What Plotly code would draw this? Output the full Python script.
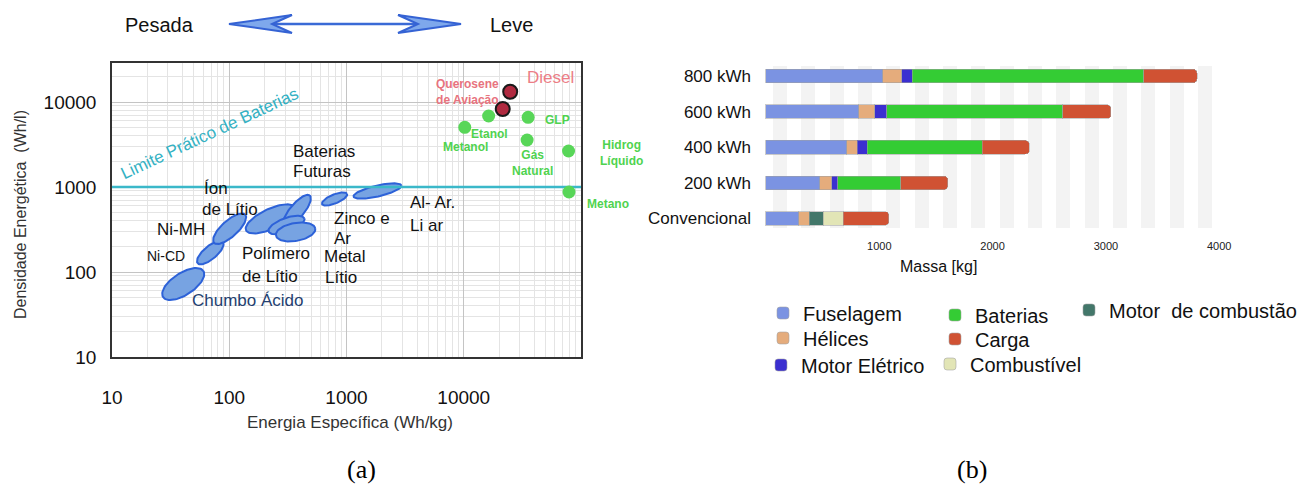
import numpy as np
import plotly.graph_objects as go

W, H = 1299, 486
SANS = "Liberation Sans, Arial, Helvetica, sans-serif"
SERIF = "Liberation Serif, Times New Roman, serif"

# ---------------- (a) energy density chart: data ----------------
x_ticks_a = [10, 100, 1000, 10000]
y_ticks_a = [10, 100, 1000, 10000]
battery_limit = 1000  # Wh/l  ("Limite Prático de Baterias")

bat_names = ["Chumbo Ácido", "Ni-CD", "Ni-MH", "Polímero de Lítio", "Íon de Lítio",
             "Polímero de Lítio (2)", "Metal Lítio", "Zinco e Ar", "Al-Ar / Li-ar"]
bat_energy = [40.5, 68.9, 100.8, 225, 378, 308, 368, 791, 1837]   # Wh/kg (region centre)
bat_density = [72.2, 169, 323, 421, 525, 357, 296, 723, 897]     # Wh/l  (region centre)

fuel_names = ["Metanol", "Etanol", "GLP", "Gás Natural", "Hidrogênio Líquido", "Metano"]
fuel_energy = [10200, 16300, 35400, 34700, 78300, 79000]
fuel_density = [5040, 6840, 6610, 3570, 2650, 873]

liq_names = ["Diesel", "Querosene de Aviação"]
liq_energy = [24900, 21500]
liq_density = [13200, 8280]

# ---------------- (b) mass breakdown: data ----------------
configs = ["800 kWh", "600 kWh", "400 kWh", "200 kWh", "Convencional"]
fuselagem = [1030, 820, 715, 475, 290]
helices = [170, 140, 90, 105, 90]
motor_eletrico = [90, 105, 90, 55, None]
motor_combustao = [None, None, None, None, 125]
combustivel = [None, None, None, None, 175]
baterias = [2045, 1555, 1015, 555, None]
carga = [470, 425, 415, 415, 405]
x_ticks_b = [1000, 2000, 3000, 4000]

# ---------------- styles / geometry ----------------
AX_L, AX_R, AX_T, AX_B = 112, 581, 63, 357       # panel (a) frame in px
DEC_X = (AX_R - AX_L) / 4.0                        # px per decade (x: 10 .. 1e5)
DEC_Y = 85.0                                        # px per decade (y)
Y_TOP = 1 + (AX_B - AX_T) / DEC_Y

ell_a = [24, 16.5, 21, 27, 20, 19, 20, 13.5, 24.5]   # semi-major (px)
ell_b = [11, 6.5, 8, 10, 7, 7, 9, 4.5, 5.5]          # semi-minor (px)
ell_ang = [33, 40, 42, 25, 50, 20, 10, 22, 13]       # degrees


def P(px, py):
    return px / W, 1 - py / H


fig = go.Figure()

# battery regions (ellipses in log space)
t = np.linspace(0, 2 * np.pi, 80)
for cx, cy, a, b, ang, nm in zip(bat_energy, bat_density, ell_a, ell_b, ell_ang, bat_names):
    th = np.radians(ang)
    ux = a * np.cos(t) * np.cos(th) - b * np.sin(t) * np.sin(th)
    uy = a * np.cos(t) * np.sin(th) + b * np.sin(t) * np.cos(th)
    xs = 10 ** (np.log10(cx) + ux / DEC_X)
    ys = 10 ** (np.log10(cy) + uy / DEC_Y)
    fig.add_trace(go.Scatter(x=xs, y=ys, mode="lines", fill="toself", name=nm,
                             fillcolor="#77a3e2", line=dict(color="#2d62d8", width=2),
                             showlegend=False, hoverinfo="skip", xaxis="x", yaxis="y"))

# practical battery limit
fig.add_trace(go.Scatter(x=[10, 1e5], y=[battery_limit, battery_limit], mode="lines",
                         line=dict(color="#3bb8c9", width=2.5), showlegend=False,
                         hoverinfo="skip", xaxis="x", yaxis="y"))

# fuels
fig.add_trace(go.Scatter(x=fuel_energy, y=fuel_density, mode="markers", text=fuel_names,
                         marker=dict(size=13, color="#58d658"), showlegend=False,
                         xaxis="x", yaxis="y"))
fig.add_trace(go.Scatter(x=liq_energy, y=liq_density, mode="markers", text=liq_names,
                         marker=dict(size=14, color="#b02a40", line=dict(color="#1a1a1a", width=2)),
                         showlegend=False, xaxis="x", yaxis="y"))

# ---------------- (b) bars ----------------
# (name, values, colour, legend id, legend text position in px: text-left x, centre y)
series = [
    ("Fuselagem", fuselagem, "#7b93e2", "legend", (803, 313)),
    ("Hélices", helices, "#e5ac7c", "legend2", (803, 338)),
    ("Motor Elétrico", motor_eletrico, "#3b2fd0", "legend3", (801, 365)),
    ("Motor  de combustão", motor_combustao, "#43776a", "legend4", (1109, 310)),
    ("Combustível", combustivel, "#e2e5b6", "legend5", (970, 364)),
    ("Baterias", baterias, "#34cc34", "legend6", (975, 315)),
    ("Carga", carga, "#d05233", "legend7", (975, 339)),
]
legends = {}
leg_common = dict(orientation="v", xanchor="left", yanchor="top", bgcolor="rgba(0,0,0,0)",
                  font=dict(size=20, color="#111", family=SANS), tracegroupgap=0,
                  itemwidth=30, borderwidth=0, traceorder="normal")
for name, vals, col, lg, (tx, ty) in series:
    fig.add_trace(go.Bar(y=configs, x=vals, orientation="h", name=name, width=0.38,
                         marker=dict(color=col, line=dict(color="rgba(160,160,160,0.55)", width=1)),
                         legend=lg, xaxis="x2", yaxis="y2"))
    legends[lg] = dict(x=(tx - 40) / W, y=1 - (ty - 19.5) / H, **leg_common)

# minor grid lines for log axes
minor_x = [m * 10 ** k for k in range(1, 5) for m in range(2, 10)]
minor_y = [m * 10 ** k for k in range(1, 5) for m in range(2, 10)]

ann = []


def add_text(text, px, py, size=17, color="#111", xanchor="left", angle=0, family=SANS):
    x, y = P(px, py)
    ann.append(dict(text=text, x=x, y=y, xref="paper", yref="paper", showarrow=False,
                    xanchor=xanchor, yanchor="middle", textangle=angle,
                    font=dict(size=size, color=color, family=family)))


# panel (a) texts
add_text("Pesada", 159, 25, 20, xanchor="center")
add_text("Leve", 512, 25, 20, xanchor="center")
add_text("Limite Prático de Baterias", 210, 134, 17, "#33b1c3", "center", angle=-25)
add_text("Baterias", 291, 151, 17)
add_text("Futuras", 291, 172, 17)
add_text("Íon", 202, 188, 17)
add_text("de Lítio", 200, 210, 17)
add_text("Ni-MH", 155, 230, 17)
add_text("Ni-CD", 145, 256, 14)
add_text("Polímero", 240, 253, 17)
add_text("de Lítio", 240, 276, 17)
add_text("Zinco e", 332, 218, 17)
add_text("Ar", 332, 238, 17)
add_text("Metal", 322, 256, 17)
add_text("Lítio", 323, 277, 17)
add_text("Al- Ar.", 408, 203, 17)
add_text("Li ar", 408, 225, 17)
add_text("Chumbo Ácido", 190, 300, 17, "#243f70")
GREEN = "#4fd34f"
add_text("<b>Metanol</b>", 465, 147, 12, GREEN, "center")
add_text("<b>Etanol</b>", 490, 134, 12, GREEN, "center")
add_text("<b>GLP</b>", 543, 120, 12, GREEN)
add_text("<b>Gás<br>Natural</b>", 510, 163, 12, GREEN)
add_text("<b>Hidrog<br>Líquido</b>", 598, 153, 12, GREEN)
add_text("<b>Metano</b>", 585, 204, 12, GREEN)
add_text("<b>Querosene<br>de Aviação</b>", 434, 92, 12, "#e8737e")
add_text("Diesel", 550, 77, 17, "#ec7d86", "center")
add_text("Energia Específica (Wh/kg)", 350, 422, 17, "#333", "center")
add_text("Densidade Energética  (Wh/l)", 20, 215, 16, "#333", "center", angle=-90)
add_text("(a)", 361, 469, 26, "#000", "center", family=SERIF)
# panel (b) texts
add_text("Massa [kg]", 938, 266, 16, "#111", "center")
add_text("(b)", 972, 469, 26, "#000", "center", family=SERIF)

# double arrow (decoration) in paper coordinates
def path(points):
    s = ""
    for i, (px, py) in enumerate(points):
        x, y = P(px, py)
        s += ("M" if i == 0 else "L") + f"{x:.5f},{y:.5f} "
    return s + "Z"


shapes = [
    dict(type="line", xref="paper", yref="paper", x0=P(272, 24)[0], y0=P(272, 24)[1],
         x1=P(418, 24)[0], y1=P(418, 24)[1], line=dict(color="#3a6ad6", width=2.5)),
    dict(type="path", xref="paper", yref="paper",
         path=path([(229, 24), (292, 15), (272, 24), (292, 33)]),
         fillcolor="#7ea8ec", line=dict(color="#3563d4", width=2)),
    dict(type="path", xref="paper", yref="paper",
         path=path([(461, 24), (398, 15), (418, 24), (398, 33)]),
         fillcolor="#7ea8ec", line=dict(color="#3563d4", width=2)),
]

fig.update_layout(
    width=W, height=H, autosize=False,
    margin=dict(l=0, r=0, t=0, b=0, autoexpand=False),
    paper_bgcolor="white", plot_bgcolor="white",
    font=dict(family=SANS, color="#111"),
    barmode="stack", barcornerradius=4,
    xaxis=dict(type="log", domain=[AX_L / W, AX_R / W], range=[1, 5], automargin=False,
               tickmode="array", tickvals=x_ticks_a, ticktext=[str(v) for v in x_ticks_a],
               showgrid=True, gridcolor="#c4c4c4", gridwidth=1,
               minor=dict(tickmode="array", tickvals=minor_x, showgrid=True,
                          gridcolor="#e4e4e4", ticks=""),
               showline=True, linecolor="#333", linewidth=1.5, mirror=True, ticks="",
               tickfont=dict(size=19, color="#111"), ticklabelstandoff=22, zeroline=False),
    yaxis=dict(type="log", domain=[1 - AX_B / H, 1 - AX_T / H], range=[1, Y_TOP], automargin=False,
               tickmode="array", tickvals=y_ticks_a, ticktext=[str(v) for v in y_ticks_a],
               showgrid=True, gridcolor="#c4c4c4", gridwidth=1,
               minor=dict(tickmode="array", tickvals=minor_y, showgrid=True,
                          gridcolor="#e4e4e4", ticks=""),
               showline=True, linecolor="#333", linewidth=1.5, mirror=True, ticks="",
               tickfont=dict(size=19, color="#111"), ticklabelstandoff=10, zeroline=False),
    xaxis2=dict(domain=[762 / W, 1232 / W], range=[-35, 4113], anchor="y2", automargin=False,
                tickmode="array", tickvals=x_ticks_b, ticktext=[str(v) for v in x_ticks_b],
                showgrid=False, zeroline=False, showline=False, ticks="",
                minor=dict(tickmode="linear", tick0=125, dtick=250, showgrid=True,
                           gridwidth=14, gridcolor="#f3f3f3", ticks=""),
                tickfont=dict(size=11, color="#222"), ticklabelstandoff=10),
    yaxis2=dict(domain=[1 - 228 / H, 1 - 66 / H], anchor="x2", type="category", automargin=False,
                categoryorder="array", categoryarray=configs, range=[4.267, -0.281],
                showgrid=False, zeroline=False, showline=False, ticks="",
                tickfont=dict(size=17, color="#111"), ticklabelstandoff=10),
    annotations=ann,
    shapes=shapes,
    **legends,
)

fig.write_html("out.html")
